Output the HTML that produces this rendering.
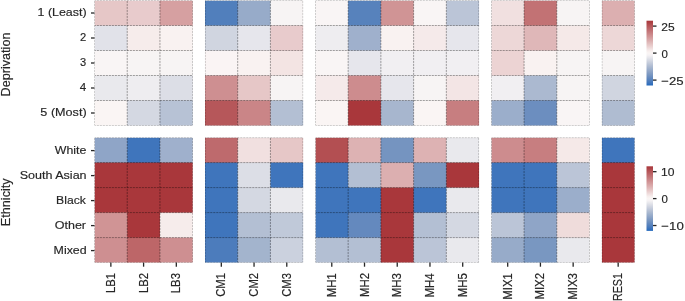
<!DOCTYPE html><html><head><meta charset="utf-8"><style>html,body{margin:0;padding:0;background:#fff;}svg{display:block;will-change:transform;}text{font-family:"Liberation Sans",sans-serif;fill:#262626;stroke:#262626;stroke-width:0.16px;}</style></head><body>
<svg width="685" height="301" viewBox="0 0 685 301">
<defs><linearGradient id="cb" x1="0" y1="0" x2="0" y2="1"><stop offset="0.0000" stop-color="#a9373b"/><stop offset="0.0312" stop-color="#ad4246"/><stop offset="0.0625" stop-color="#b34f52"/><stop offset="0.0938" stop-color="#b85b5e"/><stop offset="0.1250" stop-color="#bd676a"/><stop offset="0.1562" stop-color="#c27376"/><stop offset="0.1875" stop-color="#c77f81"/><stop offset="0.2188" stop-color="#cd8b8d"/><stop offset="0.2500" stop-color="#d29798"/><stop offset="0.2812" stop-color="#d7a3a4"/><stop offset="0.3125" stop-color="#dcafb0"/><stop offset="0.3438" stop-color="#e1bcbc"/><stop offset="0.3750" stop-color="#e7c8c8"/><stop offset="0.4062" stop-color="#ecd5d5"/><stop offset="0.4375" stop-color="#f2e2e2"/><stop offset="0.4688" stop-color="#f7efee"/><stop offset="0.5000" stop-color="#faf5f4"/><stop offset="0.5312" stop-color="#f5f2f4"/><stop offset="0.5625" stop-color="#e9e9ed"/><stop offset="0.5938" stop-color="#dcdee6"/><stop offset="0.6250" stop-color="#cfd4e0"/><stop offset="0.6562" stop-color="#c2cada"/><stop offset="0.6875" stop-color="#b5c0d4"/><stop offset="0.7188" stop-color="#a8b7cf"/><stop offset="0.7500" stop-color="#9baecb"/><stop offset="0.7812" stop-color="#8fa5c7"/><stop offset="0.8125" stop-color="#829cc3"/><stop offset="0.8438" stop-color="#7594c0"/><stop offset="0.8750" stop-color="#678bbe"/><stop offset="0.9062" stop-color="#5983bd"/><stop offset="0.9375" stop-color="#4a7bbc"/><stop offset="0.9688" stop-color="#3972bc"/><stop offset="1.0000" stop-color="#2369bd"/></linearGradient></defs>
<clipPath id="c0_0"><rect x="94.50" y="0.50" width="98.19" height="125.00"/></clipPath><g clip-path="url(#c0_0)">
<rect x="94.50" y="0.50" width="33.73" height="26.00" fill="#e6c7c7"/>
<rect x="127.23" y="0.50" width="33.73" height="26.00" fill="#e8cbcc"/>
<rect x="159.96" y="0.50" width="33.73" height="26.00" fill="#d6a0a1"/>
<rect x="94.50" y="25.50" width="33.73" height="26.00" fill="#e1e2e9"/>
<rect x="127.23" y="25.50" width="33.73" height="26.00" fill="#f6eceb"/>
<rect x="159.96" y="25.50" width="33.73" height="26.00" fill="#f9f2f1"/>
<rect x="94.50" y="50.50" width="33.73" height="26.00" fill="#f9f5f5"/>
<rect x="127.23" y="50.50" width="33.73" height="26.00" fill="#f7f4f4"/>
<rect x="159.96" y="50.50" width="33.73" height="26.00" fill="#f7f4f4"/>
<rect x="94.50" y="75.50" width="33.73" height="26.00" fill="#e9e9ed"/>
<rect x="127.23" y="75.50" width="33.73" height="26.00" fill="#eeedf0"/>
<rect x="159.96" y="75.50" width="33.73" height="26.00" fill="#dcdee6"/>
<rect x="94.50" y="100.50" width="33.73" height="26.00" fill="#faf5f4"/>
<rect x="127.23" y="100.50" width="33.73" height="26.00" fill="#d4d8e2"/>
<rect x="159.96" y="100.50" width="33.73" height="26.00" fill="#b7c2d5"/>
<line x1="94.50" y1="0.50" x2="192.69" y2="0.50" stroke="rgba(0,0,0,0.35)" stroke-width="1.0" stroke-dasharray="2.1,0.9" stroke-dashoffset="0.7"/>
<line x1="94.50" y1="25.50" x2="192.69" y2="25.50" stroke="rgba(0,0,0,0.35)" stroke-width="1.0" stroke-dasharray="2.1,0.9" stroke-dashoffset="0.7"/>
<line x1="94.50" y1="50.50" x2="192.69" y2="50.50" stroke="rgba(0,0,0,0.35)" stroke-width="1.0" stroke-dasharray="2.1,0.9" stroke-dashoffset="0.7"/>
<line x1="94.50" y1="75.50" x2="192.69" y2="75.50" stroke="rgba(0,0,0,0.35)" stroke-width="1.0" stroke-dasharray="2.1,0.9" stroke-dashoffset="0.7"/>
<line x1="94.50" y1="100.50" x2="192.69" y2="100.50" stroke="rgba(0,0,0,0.35)" stroke-width="1.0" stroke-dasharray="2.1,0.9" stroke-dashoffset="0.7"/>
<line x1="94.50" y1="125.50" x2="192.69" y2="125.50" stroke="rgba(0,0,0,0.35)" stroke-width="1.0" stroke-dasharray="2.1,0.9" stroke-dashoffset="0.7"/>
<line x1="94.50" y1="0.50" x2="94.50" y2="125.50" stroke="rgba(0,0,0,0.35)" stroke-width="1.0" stroke-dasharray="2.1,0.9" stroke-dashoffset="-0.35"/>
<line x1="127.23" y1="0.50" x2="127.23" y2="125.50" stroke="rgba(0,0,0,0.35)" stroke-width="1.0" stroke-dasharray="2.1,0.9" stroke-dashoffset="-0.35"/>
<line x1="159.96" y1="0.50" x2="159.96" y2="125.50" stroke="rgba(0,0,0,0.35)" stroke-width="1.0" stroke-dasharray="2.1,0.9" stroke-dashoffset="-0.35"/>
<line x1="192.69" y1="0.50" x2="192.69" y2="125.50" stroke="rgba(0,0,0,0.35)" stroke-width="1.0" stroke-dasharray="2.1,0.9" stroke-dashoffset="-0.35"/>
</g>
<clipPath id="c0_1"><rect x="204.96" y="0.50" width="98.19" height="125.00"/></clipPath><g clip-path="url(#c0_1)">
<rect x="204.96" y="0.50" width="33.73" height="26.00" fill="#517fbc"/>
<rect x="237.69" y="0.50" width="33.73" height="26.00" fill="#97abc9"/>
<rect x="270.42" y="0.50" width="33.73" height="26.00" fill="#f7f4f4"/>
<rect x="204.96" y="25.50" width="33.73" height="26.00" fill="#d0d5e0"/>
<rect x="237.69" y="25.50" width="33.73" height="26.00" fill="#e6e6ec"/>
<rect x="270.42" y="25.50" width="33.73" height="26.00" fill="#e8cbcc"/>
<rect x="204.96" y="50.50" width="33.73" height="26.00" fill="#faf4f4"/>
<rect x="237.69" y="50.50" width="33.73" height="26.00" fill="#f9f2f1"/>
<rect x="270.42" y="50.50" width="33.73" height="26.00" fill="#f3e4e3"/>
<rect x="204.96" y="75.50" width="33.73" height="26.00" fill="#ce8f91"/>
<rect x="237.69" y="75.50" width="33.73" height="26.00" fill="#e6c7c7"/>
<rect x="270.42" y="75.50" width="33.73" height="26.00" fill="#f7f4f4"/>
<rect x="204.96" y="100.50" width="33.73" height="26.00" fill="#b6575a"/>
<rect x="237.69" y="100.50" width="33.73" height="26.00" fill="#ca8587"/>
<rect x="270.42" y="100.50" width="33.73" height="26.00" fill="#b3bfd3"/>
<line x1="204.96" y1="0.50" x2="303.15" y2="0.50" stroke="rgba(0,0,0,0.35)" stroke-width="1.0" stroke-dasharray="2.1,0.9" stroke-dashoffset="0.7"/>
<line x1="204.96" y1="25.50" x2="303.15" y2="25.50" stroke="rgba(0,0,0,0.35)" stroke-width="1.0" stroke-dasharray="2.1,0.9" stroke-dashoffset="0.7"/>
<line x1="204.96" y1="50.50" x2="303.15" y2="50.50" stroke="rgba(0,0,0,0.35)" stroke-width="1.0" stroke-dasharray="2.1,0.9" stroke-dashoffset="0.7"/>
<line x1="204.96" y1="75.50" x2="303.15" y2="75.50" stroke="rgba(0,0,0,0.35)" stroke-width="1.0" stroke-dasharray="2.1,0.9" stroke-dashoffset="0.7"/>
<line x1="204.96" y1="100.50" x2="303.15" y2="100.50" stroke="rgba(0,0,0,0.35)" stroke-width="1.0" stroke-dasharray="2.1,0.9" stroke-dashoffset="0.7"/>
<line x1="204.96" y1="125.50" x2="303.15" y2="125.50" stroke="rgba(0,0,0,0.35)" stroke-width="1.0" stroke-dasharray="2.1,0.9" stroke-dashoffset="0.7"/>
<line x1="204.96" y1="0.50" x2="204.96" y2="125.50" stroke="rgba(0,0,0,0.35)" stroke-width="1.0" stroke-dasharray="2.1,0.9" stroke-dashoffset="-0.35"/>
<line x1="237.69" y1="0.50" x2="237.69" y2="125.50" stroke="rgba(0,0,0,0.35)" stroke-width="1.0" stroke-dasharray="2.1,0.9" stroke-dashoffset="-0.35"/>
<line x1="270.42" y1="0.50" x2="270.42" y2="125.50" stroke="rgba(0,0,0,0.35)" stroke-width="1.0" stroke-dasharray="2.1,0.9" stroke-dashoffset="-0.35"/>
<line x1="303.15" y1="0.50" x2="303.15" y2="125.50" stroke="rgba(0,0,0,0.35)" stroke-width="1.0" stroke-dasharray="2.1,0.9" stroke-dashoffset="-0.35"/>
</g>
<clipPath id="c0_2"><rect x="315.42" y="0.50" width="163.65" height="125.00"/></clipPath><g clip-path="url(#c0_2)">
<rect x="315.42" y="0.50" width="33.73" height="26.00" fill="#f9f5f5"/>
<rect x="348.15" y="0.50" width="33.73" height="26.00" fill="#5782bc"/>
<rect x="380.88" y="0.50" width="33.73" height="26.00" fill="#d09495"/>
<rect x="413.61" y="0.50" width="33.73" height="26.00" fill="#f9f5f5"/>
<rect x="446.34" y="0.50" width="33.73" height="26.00" fill="#bbc5d7"/>
<rect x="315.42" y="25.50" width="33.73" height="26.00" fill="#eeedf0"/>
<rect x="348.15" y="25.50" width="33.73" height="26.00" fill="#9fb0cc"/>
<rect x="380.88" y="25.50" width="33.73" height="26.00" fill="#f9f2f1"/>
<rect x="413.61" y="25.50" width="33.73" height="26.00" fill="#f5eaea"/>
<rect x="446.34" y="25.50" width="33.73" height="26.00" fill="#e6e6ec"/>
<rect x="315.42" y="50.50" width="33.73" height="26.00" fill="#f9f5f5"/>
<rect x="348.15" y="50.50" width="33.73" height="26.00" fill="#e6e6ec"/>
<rect x="380.88" y="50.50" width="33.73" height="26.00" fill="#f1eff2"/>
<rect x="413.61" y="50.50" width="33.73" height="26.00" fill="#f1eff2"/>
<rect x="446.34" y="50.50" width="33.73" height="26.00" fill="#f1eff2"/>
<rect x="315.42" y="75.50" width="33.73" height="26.00" fill="#f5eaea"/>
<rect x="348.15" y="75.50" width="33.73" height="26.00" fill="#cd8c8e"/>
<rect x="380.88" y="75.50" width="33.73" height="26.00" fill="#e6e6ec"/>
<rect x="413.61" y="75.50" width="33.73" height="26.00" fill="#f7f4f4"/>
<rect x="446.34" y="75.50" width="33.73" height="26.00" fill="#f3e5e5"/>
<rect x="315.42" y="100.50" width="33.73" height="26.00" fill="#faf5f4"/>
<rect x="348.15" y="100.50" width="33.73" height="26.00" fill="#a9373b"/>
<rect x="380.88" y="100.50" width="33.73" height="26.00" fill="#a7b6ce"/>
<rect x="413.61" y="100.50" width="33.73" height="26.00" fill="#faf5f4"/>
<rect x="446.34" y="100.50" width="33.73" height="26.00" fill="#c77e80"/>
<line x1="315.42" y1="0.50" x2="479.07" y2="0.50" stroke="rgba(0,0,0,0.35)" stroke-width="1.0" stroke-dasharray="2.1,0.9" stroke-dashoffset="0.7"/>
<line x1="315.42" y1="25.50" x2="479.07" y2="25.50" stroke="rgba(0,0,0,0.35)" stroke-width="1.0" stroke-dasharray="2.1,0.9" stroke-dashoffset="0.7"/>
<line x1="315.42" y1="50.50" x2="479.07" y2="50.50" stroke="rgba(0,0,0,0.35)" stroke-width="1.0" stroke-dasharray="2.1,0.9" stroke-dashoffset="0.7"/>
<line x1="315.42" y1="75.50" x2="479.07" y2="75.50" stroke="rgba(0,0,0,0.35)" stroke-width="1.0" stroke-dasharray="2.1,0.9" stroke-dashoffset="0.7"/>
<line x1="315.42" y1="100.50" x2="479.07" y2="100.50" stroke="rgba(0,0,0,0.35)" stroke-width="1.0" stroke-dasharray="2.1,0.9" stroke-dashoffset="0.7"/>
<line x1="315.42" y1="125.50" x2="479.07" y2="125.50" stroke="rgba(0,0,0,0.35)" stroke-width="1.0" stroke-dasharray="2.1,0.9" stroke-dashoffset="0.7"/>
<line x1="315.42" y1="0.50" x2="315.42" y2="125.50" stroke="rgba(0,0,0,0.35)" stroke-width="1.0" stroke-dasharray="2.1,0.9" stroke-dashoffset="-0.35"/>
<line x1="348.15" y1="0.50" x2="348.15" y2="125.50" stroke="rgba(0,0,0,0.35)" stroke-width="1.0" stroke-dasharray="2.1,0.9" stroke-dashoffset="-0.35"/>
<line x1="380.88" y1="0.50" x2="380.88" y2="125.50" stroke="rgba(0,0,0,0.35)" stroke-width="1.0" stroke-dasharray="2.1,0.9" stroke-dashoffset="-0.35"/>
<line x1="413.61" y1="0.50" x2="413.61" y2="125.50" stroke="rgba(0,0,0,0.35)" stroke-width="1.0" stroke-dasharray="2.1,0.9" stroke-dashoffset="-0.35"/>
<line x1="446.34" y1="0.50" x2="446.34" y2="125.50" stroke="rgba(0,0,0,0.35)" stroke-width="1.0" stroke-dasharray="2.1,0.9" stroke-dashoffset="-0.35"/>
<line x1="479.07" y1="0.50" x2="479.07" y2="125.50" stroke="rgba(0,0,0,0.35)" stroke-width="1.0" stroke-dasharray="2.1,0.9" stroke-dashoffset="-0.35"/>
</g>
<clipPath id="c0_3"><rect x="491.34" y="0.50" width="98.19" height="125.00"/></clipPath><g clip-path="url(#c0_3)">
<rect x="491.34" y="0.50" width="33.73" height="26.00" fill="#f1e0e0"/>
<rect x="524.07" y="0.50" width="33.73" height="26.00" fill="#c27274"/>
<rect x="556.80" y="0.50" width="33.73" height="26.00" fill="#f7f4f4"/>
<rect x="491.34" y="25.50" width="33.73" height="26.00" fill="#edd7d7"/>
<rect x="524.07" y="25.50" width="33.73" height="26.00" fill="#dfb7b8"/>
<rect x="556.80" y="25.50" width="33.73" height="26.00" fill="#f5e9e8"/>
<rect x="491.34" y="50.50" width="33.73" height="26.00" fill="#ecd3d3"/>
<rect x="524.07" y="50.50" width="33.73" height="26.00" fill="#f9f2f1"/>
<rect x="556.80" y="50.50" width="33.73" height="26.00" fill="#f7f4f4"/>
<rect x="491.34" y="75.50" width="33.73" height="26.00" fill="#f1eff2"/>
<rect x="524.07" y="75.50" width="33.73" height="26.00" fill="#abb9d0"/>
<rect x="556.80" y="75.50" width="33.73" height="26.00" fill="#f7f4f4"/>
<rect x="491.34" y="100.50" width="33.73" height="26.00" fill="#9baecb"/>
<rect x="524.07" y="100.50" width="33.73" height="26.00" fill="#6c8ebf"/>
<rect x="556.80" y="100.50" width="33.73" height="26.00" fill="#f9f5f5"/>
<line x1="491.34" y1="0.50" x2="589.53" y2="0.50" stroke="rgba(0,0,0,0.35)" stroke-width="1.0" stroke-dasharray="2.1,0.9" stroke-dashoffset="0.7"/>
<line x1="491.34" y1="25.50" x2="589.53" y2="25.50" stroke="rgba(0,0,0,0.35)" stroke-width="1.0" stroke-dasharray="2.1,0.9" stroke-dashoffset="0.7"/>
<line x1="491.34" y1="50.50" x2="589.53" y2="50.50" stroke="rgba(0,0,0,0.35)" stroke-width="1.0" stroke-dasharray="2.1,0.9" stroke-dashoffset="0.7"/>
<line x1="491.34" y1="75.50" x2="589.53" y2="75.50" stroke="rgba(0,0,0,0.35)" stroke-width="1.0" stroke-dasharray="2.1,0.9" stroke-dashoffset="0.7"/>
<line x1="491.34" y1="100.50" x2="589.53" y2="100.50" stroke="rgba(0,0,0,0.35)" stroke-width="1.0" stroke-dasharray="2.1,0.9" stroke-dashoffset="0.7"/>
<line x1="491.34" y1="125.50" x2="589.53" y2="125.50" stroke="rgba(0,0,0,0.35)" stroke-width="1.0" stroke-dasharray="2.1,0.9" stroke-dashoffset="0.7"/>
<line x1="491.34" y1="0.50" x2="491.34" y2="125.50" stroke="rgba(0,0,0,0.35)" stroke-width="1.0" stroke-dasharray="2.1,0.9" stroke-dashoffset="-0.35"/>
<line x1="524.07" y1="0.50" x2="524.07" y2="125.50" stroke="rgba(0,0,0,0.35)" stroke-width="1.0" stroke-dasharray="2.1,0.9" stroke-dashoffset="-0.35"/>
<line x1="556.80" y1="0.50" x2="556.80" y2="125.50" stroke="rgba(0,0,0,0.35)" stroke-width="1.0" stroke-dasharray="2.1,0.9" stroke-dashoffset="-0.35"/>
<line x1="589.53" y1="0.50" x2="589.53" y2="125.50" stroke="rgba(0,0,0,0.35)" stroke-width="1.0" stroke-dasharray="2.1,0.9" stroke-dashoffset="-0.35"/>
</g>
<clipPath id="c0_4"><rect x="601.80" y="0.50" width="32.73" height="125.00"/></clipPath><g clip-path="url(#c0_4)">
<rect x="601.80" y="0.50" width="33.73" height="26.00" fill="#dcafb0"/>
<rect x="601.80" y="25.50" width="33.73" height="26.00" fill="#edd7d7"/>
<rect x="601.80" y="50.50" width="33.73" height="26.00" fill="#f7f4f4"/>
<rect x="601.80" y="75.50" width="33.73" height="26.00" fill="#d0d5e0"/>
<rect x="601.80" y="100.50" width="33.73" height="26.00" fill="#afbcd1"/>
<line x1="601.80" y1="0.50" x2="634.53" y2="0.50" stroke="rgba(0,0,0,0.35)" stroke-width="1.0" stroke-dasharray="2.1,0.9" stroke-dashoffset="0.7"/>
<line x1="601.80" y1="25.50" x2="634.53" y2="25.50" stroke="rgba(0,0,0,0.35)" stroke-width="1.0" stroke-dasharray="2.1,0.9" stroke-dashoffset="0.7"/>
<line x1="601.80" y1="50.50" x2="634.53" y2="50.50" stroke="rgba(0,0,0,0.35)" stroke-width="1.0" stroke-dasharray="2.1,0.9" stroke-dashoffset="0.7"/>
<line x1="601.80" y1="75.50" x2="634.53" y2="75.50" stroke="rgba(0,0,0,0.35)" stroke-width="1.0" stroke-dasharray="2.1,0.9" stroke-dashoffset="0.7"/>
<line x1="601.80" y1="100.50" x2="634.53" y2="100.50" stroke="rgba(0,0,0,0.35)" stroke-width="1.0" stroke-dasharray="2.1,0.9" stroke-dashoffset="0.7"/>
<line x1="601.80" y1="125.50" x2="634.53" y2="125.50" stroke="rgba(0,0,0,0.35)" stroke-width="1.0" stroke-dasharray="2.1,0.9" stroke-dashoffset="0.7"/>
<line x1="601.80" y1="0.50" x2="601.80" y2="125.50" stroke="rgba(0,0,0,0.35)" stroke-width="1.0" stroke-dasharray="2.1,0.9" stroke-dashoffset="-0.35"/>
<line x1="634.53" y1="0.50" x2="634.53" y2="125.50" stroke="rgba(0,0,0,0.35)" stroke-width="1.0" stroke-dasharray="2.1,0.9" stroke-dashoffset="-0.35"/>
</g>
<line x1="91.00" y1="13.00" x2="94.50" y2="13.00" stroke="#262626" stroke-width="1.3"/>
<text x="37.54" y="16.20" font-size="11.7" textLength="49.02" lengthAdjust="spacingAndGlyphs">1 (Least)</text>
<line x1="91.00" y1="38.00" x2="94.50" y2="38.00" stroke="#262626" stroke-width="1.3"/>
<text x="80.12" y="41.20" font-size="11.7" textLength="6.26" lengthAdjust="spacingAndGlyphs">2</text>
<line x1="91.00" y1="63.00" x2="94.50" y2="63.00" stroke="#262626" stroke-width="1.3"/>
<text x="80.12" y="66.20" font-size="11.7" textLength="6.16" lengthAdjust="spacingAndGlyphs">3</text>
<line x1="91.00" y1="88.00" x2="94.50" y2="88.00" stroke="#262626" stroke-width="1.3"/>
<text x="79.70" y="91.20" font-size="11.7" textLength="6.45" lengthAdjust="spacingAndGlyphs">4</text>
<line x1="91.00" y1="113.00" x2="94.50" y2="113.00" stroke="#262626" stroke-width="1.3"/>
<text x="40.36" y="116.20" font-size="11.7" textLength="46.25" lengthAdjust="spacingAndGlyphs">5 (Most)</text>
<clipPath id="c1_0"><rect x="94.50" y="137.60" width="98.19" height="125.00"/></clipPath><g clip-path="url(#c1_0)">
<rect x="94.50" y="137.60" width="33.73" height="26.00" fill="#8fa5c7"/>
<rect x="127.23" y="137.60" width="33.73" height="26.00" fill="#3f75bc"/>
<rect x="159.96" y="137.60" width="33.73" height="26.00" fill="#9fb0cc"/>
<rect x="94.50" y="162.60" width="33.73" height="26.00" fill="#a9373b"/>
<rect x="127.23" y="162.60" width="33.73" height="26.00" fill="#a9373b"/>
<rect x="159.96" y="162.60" width="33.73" height="26.00" fill="#a9373b"/>
<rect x="94.50" y="187.60" width="33.73" height="26.00" fill="#a9373b"/>
<rect x="127.23" y="187.60" width="33.73" height="26.00" fill="#a9373b"/>
<rect x="159.96" y="187.60" width="33.73" height="26.00" fill="#a9373b"/>
<rect x="94.50" y="212.60" width="33.73" height="26.00" fill="#d09495"/>
<rect x="127.23" y="212.60" width="33.73" height="26.00" fill="#a9373b"/>
<rect x="159.96" y="212.60" width="33.73" height="26.00" fill="#f6eceb"/>
<rect x="94.50" y="237.60" width="33.73" height="26.00" fill="#ce8f91"/>
<rect x="127.23" y="237.60" width="33.73" height="26.00" fill="#bd6668"/>
<rect x="159.96" y="237.60" width="33.73" height="26.00" fill="#ce8f91"/>
<line x1="94.50" y1="137.60" x2="192.69" y2="137.60" stroke="rgba(0,0,0,0.35)" stroke-width="1.0" stroke-dasharray="2.1,0.9" stroke-dashoffset="0.7"/>
<line x1="94.50" y1="162.60" x2="192.69" y2="162.60" stroke="rgba(0,0,0,0.35)" stroke-width="1.0" stroke-dasharray="2.1,0.9" stroke-dashoffset="0.7"/>
<line x1="94.50" y1="187.60" x2="192.69" y2="187.60" stroke="rgba(0,0,0,0.35)" stroke-width="1.0" stroke-dasharray="2.1,0.9" stroke-dashoffset="0.7"/>
<line x1="94.50" y1="212.60" x2="192.69" y2="212.60" stroke="rgba(0,0,0,0.35)" stroke-width="1.0" stroke-dasharray="2.1,0.9" stroke-dashoffset="0.7"/>
<line x1="94.50" y1="237.60" x2="192.69" y2="237.60" stroke="rgba(0,0,0,0.35)" stroke-width="1.0" stroke-dasharray="2.1,0.9" stroke-dashoffset="0.7"/>
<line x1="94.50" y1="262.60" x2="192.69" y2="262.60" stroke="rgba(0,0,0,0.35)" stroke-width="1.0" stroke-dasharray="2.1,0.9" stroke-dashoffset="0.7"/>
<line x1="94.50" y1="137.60" x2="94.50" y2="262.60" stroke="rgba(0,0,0,0.35)" stroke-width="1.0" stroke-dasharray="2.1,0.9" stroke-dashoffset="-0.35"/>
<line x1="127.23" y1="137.60" x2="127.23" y2="262.60" stroke="rgba(0,0,0,0.35)" stroke-width="1.0" stroke-dasharray="2.1,0.9" stroke-dashoffset="-0.35"/>
<line x1="159.96" y1="137.60" x2="159.96" y2="262.60" stroke="rgba(0,0,0,0.35)" stroke-width="1.0" stroke-dasharray="2.1,0.9" stroke-dashoffset="-0.35"/>
<line x1="192.69" y1="137.60" x2="192.69" y2="262.60" stroke="rgba(0,0,0,0.35)" stroke-width="1.0" stroke-dasharray="2.1,0.9" stroke-dashoffset="-0.35"/>
</g>
<clipPath id="c1_1"><rect x="204.96" y="137.60" width="98.19" height="125.00"/></clipPath><g clip-path="url(#c1_1)">
<rect x="204.96" y="137.60" width="33.73" height="26.00" fill="#be6a6d"/>
<rect x="237.69" y="137.60" width="33.73" height="26.00" fill="#f1e0e0"/>
<rect x="270.42" y="137.60" width="33.73" height="26.00" fill="#e6c7c7"/>
<rect x="204.96" y="162.60" width="33.73" height="26.00" fill="#3f75bc"/>
<rect x="237.69" y="162.60" width="33.73" height="26.00" fill="#dcdee6"/>
<rect x="270.42" y="162.60" width="33.73" height="26.00" fill="#3f75bc"/>
<rect x="204.96" y="187.60" width="33.73" height="26.00" fill="#3f75bc"/>
<rect x="237.69" y="187.60" width="33.73" height="26.00" fill="#d4d8e2"/>
<rect x="270.42" y="187.60" width="33.73" height="26.00" fill="#e9e9ed"/>
<rect x="204.96" y="212.60" width="33.73" height="26.00" fill="#3f75bc"/>
<rect x="237.69" y="212.60" width="33.73" height="26.00" fill="#b3bfd3"/>
<rect x="270.42" y="212.60" width="33.73" height="26.00" fill="#c0c9d9"/>
<rect x="204.96" y="237.60" width="33.73" height="26.00" fill="#4c7cbc"/>
<rect x="237.69" y="237.60" width="33.73" height="26.00" fill="#a3b4cd"/>
<rect x="270.42" y="237.60" width="33.73" height="26.00" fill="#cbd1de"/>
<line x1="204.96" y1="137.60" x2="303.15" y2="137.60" stroke="rgba(0,0,0,0.35)" stroke-width="1.0" stroke-dasharray="2.1,0.9" stroke-dashoffset="0.7"/>
<line x1="204.96" y1="162.60" x2="303.15" y2="162.60" stroke="rgba(0,0,0,0.35)" stroke-width="1.0" stroke-dasharray="2.1,0.9" stroke-dashoffset="0.7"/>
<line x1="204.96" y1="187.60" x2="303.15" y2="187.60" stroke="rgba(0,0,0,0.35)" stroke-width="1.0" stroke-dasharray="2.1,0.9" stroke-dashoffset="0.7"/>
<line x1="204.96" y1="212.60" x2="303.15" y2="212.60" stroke="rgba(0,0,0,0.35)" stroke-width="1.0" stroke-dasharray="2.1,0.9" stroke-dashoffset="0.7"/>
<line x1="204.96" y1="237.60" x2="303.15" y2="237.60" stroke="rgba(0,0,0,0.35)" stroke-width="1.0" stroke-dasharray="2.1,0.9" stroke-dashoffset="0.7"/>
<line x1="204.96" y1="262.60" x2="303.15" y2="262.60" stroke="rgba(0,0,0,0.35)" stroke-width="1.0" stroke-dasharray="2.1,0.9" stroke-dashoffset="0.7"/>
<line x1="204.96" y1="137.60" x2="204.96" y2="262.60" stroke="rgba(0,0,0,0.35)" stroke-width="1.0" stroke-dasharray="2.1,0.9" stroke-dashoffset="-0.35"/>
<line x1="237.69" y1="137.60" x2="237.69" y2="262.60" stroke="rgba(0,0,0,0.35)" stroke-width="1.0" stroke-dasharray="2.1,0.9" stroke-dashoffset="-0.35"/>
<line x1="270.42" y1="137.60" x2="270.42" y2="262.60" stroke="rgba(0,0,0,0.35)" stroke-width="1.0" stroke-dasharray="2.1,0.9" stroke-dashoffset="-0.35"/>
<line x1="303.15" y1="137.60" x2="303.15" y2="262.60" stroke="rgba(0,0,0,0.35)" stroke-width="1.0" stroke-dasharray="2.1,0.9" stroke-dashoffset="-0.35"/>
</g>
<clipPath id="c1_2"><rect x="315.42" y="137.60" width="163.65" height="125.00"/></clipPath><g clip-path="url(#c1_2)">
<rect x="315.42" y="137.60" width="33.73" height="26.00" fill="#b34f52"/>
<rect x="348.15" y="137.60" width="33.73" height="26.00" fill="#ddb2b3"/>
<rect x="380.88" y="137.60" width="33.73" height="26.00" fill="#7594c0"/>
<rect x="413.61" y="137.60" width="33.73" height="26.00" fill="#ddb2b3"/>
<rect x="446.34" y="137.60" width="33.73" height="26.00" fill="#e9e9ed"/>
<rect x="315.42" y="162.60" width="33.73" height="26.00" fill="#3f75bc"/>
<rect x="348.15" y="162.60" width="33.73" height="26.00" fill="#b3bfd3"/>
<rect x="380.88" y="162.60" width="33.73" height="26.00" fill="#dcafb0"/>
<rect x="413.61" y="162.60" width="33.73" height="26.00" fill="#7997c1"/>
<rect x="446.34" y="162.60" width="33.73" height="26.00" fill="#a9373b"/>
<rect x="315.42" y="187.60" width="33.73" height="26.00" fill="#3f75bc"/>
<rect x="348.15" y="187.60" width="33.73" height="26.00" fill="#3f75bc"/>
<rect x="380.88" y="187.60" width="33.73" height="26.00" fill="#a9373b"/>
<rect x="413.61" y="187.60" width="33.73" height="26.00" fill="#3f75bc"/>
<rect x="446.34" y="187.60" width="33.73" height="26.00" fill="#e9e9ed"/>
<rect x="315.42" y="212.60" width="33.73" height="26.00" fill="#3f75bc"/>
<rect x="348.15" y="212.60" width="33.73" height="26.00" fill="#6489be"/>
<rect x="380.88" y="212.60" width="33.73" height="26.00" fill="#a9373b"/>
<rect x="413.61" y="212.60" width="33.73" height="26.00" fill="#b3bfd3"/>
<rect x="446.34" y="212.60" width="33.73" height="26.00" fill="#d4d8e2"/>
<rect x="315.42" y="237.60" width="33.73" height="26.00" fill="#b3bfd3"/>
<rect x="348.15" y="237.60" width="33.73" height="26.00" fill="#b3bfd3"/>
<rect x="380.88" y="237.60" width="33.73" height="26.00" fill="#a9373b"/>
<rect x="413.61" y="237.60" width="33.73" height="26.00" fill="#bbc5d7"/>
<rect x="446.34" y="237.60" width="33.73" height="26.00" fill="#e9e9ed"/>
<line x1="315.42" y1="137.60" x2="479.07" y2="137.60" stroke="rgba(0,0,0,0.35)" stroke-width="1.0" stroke-dasharray="2.1,0.9" stroke-dashoffset="0.7"/>
<line x1="315.42" y1="162.60" x2="479.07" y2="162.60" stroke="rgba(0,0,0,0.35)" stroke-width="1.0" stroke-dasharray="2.1,0.9" stroke-dashoffset="0.7"/>
<line x1="315.42" y1="187.60" x2="479.07" y2="187.60" stroke="rgba(0,0,0,0.35)" stroke-width="1.0" stroke-dasharray="2.1,0.9" stroke-dashoffset="0.7"/>
<line x1="315.42" y1="212.60" x2="479.07" y2="212.60" stroke="rgba(0,0,0,0.35)" stroke-width="1.0" stroke-dasharray="2.1,0.9" stroke-dashoffset="0.7"/>
<line x1="315.42" y1="237.60" x2="479.07" y2="237.60" stroke="rgba(0,0,0,0.35)" stroke-width="1.0" stroke-dasharray="2.1,0.9" stroke-dashoffset="0.7"/>
<line x1="315.42" y1="262.60" x2="479.07" y2="262.60" stroke="rgba(0,0,0,0.35)" stroke-width="1.0" stroke-dasharray="2.1,0.9" stroke-dashoffset="0.7"/>
<line x1="315.42" y1="137.60" x2="315.42" y2="262.60" stroke="rgba(0,0,0,0.35)" stroke-width="1.0" stroke-dasharray="2.1,0.9" stroke-dashoffset="-0.35"/>
<line x1="348.15" y1="137.60" x2="348.15" y2="262.60" stroke="rgba(0,0,0,0.35)" stroke-width="1.0" stroke-dasharray="2.1,0.9" stroke-dashoffset="-0.35"/>
<line x1="380.88" y1="137.60" x2="380.88" y2="262.60" stroke="rgba(0,0,0,0.35)" stroke-width="1.0" stroke-dasharray="2.1,0.9" stroke-dashoffset="-0.35"/>
<line x1="413.61" y1="137.60" x2="413.61" y2="262.60" stroke="rgba(0,0,0,0.35)" stroke-width="1.0" stroke-dasharray="2.1,0.9" stroke-dashoffset="-0.35"/>
<line x1="446.34" y1="137.60" x2="446.34" y2="262.60" stroke="rgba(0,0,0,0.35)" stroke-width="1.0" stroke-dasharray="2.1,0.9" stroke-dashoffset="-0.35"/>
<line x1="479.07" y1="137.60" x2="479.07" y2="262.60" stroke="rgba(0,0,0,0.35)" stroke-width="1.0" stroke-dasharray="2.1,0.9" stroke-dashoffset="-0.35"/>
</g>
<clipPath id="c1_3"><rect x="491.34" y="137.60" width="98.19" height="125.00"/></clipPath><g clip-path="url(#c1_3)">
<rect x="491.34" y="137.60" width="33.73" height="26.00" fill="#cd8c8e"/>
<rect x="524.07" y="137.60" width="33.73" height="26.00" fill="#c77e80"/>
<rect x="556.80" y="137.60" width="33.73" height="26.00" fill="#f5e9e8"/>
<rect x="491.34" y="162.60" width="33.73" height="26.00" fill="#3f75bc"/>
<rect x="524.07" y="162.60" width="33.73" height="26.00" fill="#3f75bc"/>
<rect x="556.80" y="162.60" width="33.73" height="26.00" fill="#bbc5d7"/>
<rect x="491.34" y="187.60" width="33.73" height="26.00" fill="#3f75bc"/>
<rect x="524.07" y="187.60" width="33.73" height="26.00" fill="#3f75bc"/>
<rect x="556.80" y="187.60" width="33.73" height="26.00" fill="#9baecb"/>
<rect x="491.34" y="212.60" width="33.73" height="26.00" fill="#bbc5d7"/>
<rect x="524.07" y="212.60" width="33.73" height="26.00" fill="#8fa5c7"/>
<rect x="556.80" y="212.60" width="33.73" height="26.00" fill="#efdcdb"/>
<rect x="491.34" y="237.60" width="33.73" height="26.00" fill="#97abc9"/>
<rect x="524.07" y="237.60" width="33.73" height="26.00" fill="#7997c1"/>
<rect x="556.80" y="237.60" width="33.73" height="26.00" fill="#e9e9ed"/>
<line x1="491.34" y1="137.60" x2="589.53" y2="137.60" stroke="rgba(0,0,0,0.35)" stroke-width="1.0" stroke-dasharray="2.1,0.9" stroke-dashoffset="0.7"/>
<line x1="491.34" y1="162.60" x2="589.53" y2="162.60" stroke="rgba(0,0,0,0.35)" stroke-width="1.0" stroke-dasharray="2.1,0.9" stroke-dashoffset="0.7"/>
<line x1="491.34" y1="187.60" x2="589.53" y2="187.60" stroke="rgba(0,0,0,0.35)" stroke-width="1.0" stroke-dasharray="2.1,0.9" stroke-dashoffset="0.7"/>
<line x1="491.34" y1="212.60" x2="589.53" y2="212.60" stroke="rgba(0,0,0,0.35)" stroke-width="1.0" stroke-dasharray="2.1,0.9" stroke-dashoffset="0.7"/>
<line x1="491.34" y1="237.60" x2="589.53" y2="237.60" stroke="rgba(0,0,0,0.35)" stroke-width="1.0" stroke-dasharray="2.1,0.9" stroke-dashoffset="0.7"/>
<line x1="491.34" y1="262.60" x2="589.53" y2="262.60" stroke="rgba(0,0,0,0.35)" stroke-width="1.0" stroke-dasharray="2.1,0.9" stroke-dashoffset="0.7"/>
<line x1="491.34" y1="137.60" x2="491.34" y2="262.60" stroke="rgba(0,0,0,0.35)" stroke-width="1.0" stroke-dasharray="2.1,0.9" stroke-dashoffset="-0.35"/>
<line x1="524.07" y1="137.60" x2="524.07" y2="262.60" stroke="rgba(0,0,0,0.35)" stroke-width="1.0" stroke-dasharray="2.1,0.9" stroke-dashoffset="-0.35"/>
<line x1="556.80" y1="137.60" x2="556.80" y2="262.60" stroke="rgba(0,0,0,0.35)" stroke-width="1.0" stroke-dasharray="2.1,0.9" stroke-dashoffset="-0.35"/>
<line x1="589.53" y1="137.60" x2="589.53" y2="262.60" stroke="rgba(0,0,0,0.35)" stroke-width="1.0" stroke-dasharray="2.1,0.9" stroke-dashoffset="-0.35"/>
</g>
<clipPath id="c1_4"><rect x="601.80" y="137.60" width="32.73" height="125.00"/></clipPath><g clip-path="url(#c1_4)">
<rect x="601.80" y="137.60" width="33.73" height="26.00" fill="#3f75bc"/>
<rect x="601.80" y="162.60" width="33.73" height="26.00" fill="#a9373b"/>
<rect x="601.80" y="187.60" width="33.73" height="26.00" fill="#a9373b"/>
<rect x="601.80" y="212.60" width="33.73" height="26.00" fill="#a9373b"/>
<rect x="601.80" y="237.60" width="33.73" height="26.00" fill="#a9373b"/>
<line x1="601.80" y1="137.60" x2="634.53" y2="137.60" stroke="rgba(0,0,0,0.35)" stroke-width="1.0" stroke-dasharray="2.1,0.9" stroke-dashoffset="0.7"/>
<line x1="601.80" y1="162.60" x2="634.53" y2="162.60" stroke="rgba(0,0,0,0.35)" stroke-width="1.0" stroke-dasharray="2.1,0.9" stroke-dashoffset="0.7"/>
<line x1="601.80" y1="187.60" x2="634.53" y2="187.60" stroke="rgba(0,0,0,0.35)" stroke-width="1.0" stroke-dasharray="2.1,0.9" stroke-dashoffset="0.7"/>
<line x1="601.80" y1="212.60" x2="634.53" y2="212.60" stroke="rgba(0,0,0,0.35)" stroke-width="1.0" stroke-dasharray="2.1,0.9" stroke-dashoffset="0.7"/>
<line x1="601.80" y1="237.60" x2="634.53" y2="237.60" stroke="rgba(0,0,0,0.35)" stroke-width="1.0" stroke-dasharray="2.1,0.9" stroke-dashoffset="0.7"/>
<line x1="601.80" y1="262.60" x2="634.53" y2="262.60" stroke="rgba(0,0,0,0.35)" stroke-width="1.0" stroke-dasharray="2.1,0.9" stroke-dashoffset="0.7"/>
<line x1="601.80" y1="137.60" x2="601.80" y2="262.60" stroke="rgba(0,0,0,0.35)" stroke-width="1.0" stroke-dasharray="2.1,0.9" stroke-dashoffset="-0.35"/>
<line x1="634.53" y1="137.60" x2="634.53" y2="262.60" stroke="rgba(0,0,0,0.35)" stroke-width="1.0" stroke-dasharray="2.1,0.9" stroke-dashoffset="-0.35"/>
</g>
<line x1="91.00" y1="150.60" x2="94.50" y2="150.60" stroke="#262626" stroke-width="1.3"/>
<text x="54.75" y="153.90" font-size="11.7" textLength="31.59" lengthAdjust="spacingAndGlyphs">White</text>
<line x1="91.00" y1="175.60" x2="94.50" y2="175.60" stroke="#262626" stroke-width="1.3"/>
<text x="19.71" y="178.90" font-size="11.7" textLength="66.89" lengthAdjust="spacingAndGlyphs">South Asian</text>
<line x1="91.00" y1="200.60" x2="94.50" y2="200.60" stroke="#262626" stroke-width="1.3"/>
<text x="56.11" y="203.90" font-size="11.7" textLength="29.70" lengthAdjust="spacingAndGlyphs">Black</text>
<line x1="91.00" y1="225.60" x2="94.50" y2="225.60" stroke="#262626" stroke-width="1.3"/>
<text x="54.71" y="228.90" font-size="11.7" textLength="31.32" lengthAdjust="spacingAndGlyphs">Other</text>
<line x1="91.00" y1="250.60" x2="94.50" y2="250.60" stroke="#262626" stroke-width="1.3"/>
<text x="53.60" y="253.90" font-size="11.7" textLength="33.01" lengthAdjust="spacingAndGlyphs">Mixed</text>
<line x1="110.86" y1="262.60" x2="110.86" y2="266.70" stroke="#262626" stroke-width="1.3"/>
<text transform="translate(114.86,292.15) rotate(-90)" x="-0.91" y="0" font-size="12.3" textLength="20.00" lengthAdjust="spacingAndGlyphs">LB1</text>
<line x1="143.59" y1="262.60" x2="143.59" y2="266.70" stroke="#262626" stroke-width="1.3"/>
<text transform="translate(147.59,292.05) rotate(-90)" x="-0.91" y="0" font-size="12.3" textLength="19.94" lengthAdjust="spacingAndGlyphs">LB2</text>
<line x1="176.32" y1="262.60" x2="176.32" y2="266.70" stroke="#262626" stroke-width="1.3"/>
<text transform="translate(180.32,292.25) rotate(-90)" x="-0.92" y="0" font-size="12.3" textLength="20.06" lengthAdjust="spacingAndGlyphs">LB3</text>
<line x1="221.32" y1="262.60" x2="221.32" y2="266.70" stroke="#262626" stroke-width="1.3"/>
<text transform="translate(225.32,296.15) rotate(-90)" x="-0.59" y="0" font-size="12.3" textLength="23.66" lengthAdjust="spacingAndGlyphs">CM1</text>
<line x1="254.05" y1="262.60" x2="254.05" y2="266.70" stroke="#262626" stroke-width="1.3"/>
<text transform="translate(258.05,296.05) rotate(-90)" x="-0.59" y="0" font-size="12.3" textLength="23.60" lengthAdjust="spacingAndGlyphs">CM2</text>
<line x1="286.78" y1="262.60" x2="286.78" y2="266.70" stroke="#262626" stroke-width="1.3"/>
<text transform="translate(290.78,296.25) rotate(-90)" x="-0.59" y="0" font-size="12.3" textLength="23.72" lengthAdjust="spacingAndGlyphs">CM3</text>
<line x1="331.78" y1="262.60" x2="331.78" y2="266.70" stroke="#262626" stroke-width="1.3"/>
<text transform="translate(335.78,296.25) rotate(-90)" x="-0.93" y="0" font-size="12.3" textLength="24.11" lengthAdjust="spacingAndGlyphs">MH1</text>
<line x1="364.51" y1="262.60" x2="364.51" y2="266.70" stroke="#262626" stroke-width="1.3"/>
<text transform="translate(368.51,296.15) rotate(-90)" x="-0.93" y="0" font-size="12.3" textLength="24.05" lengthAdjust="spacingAndGlyphs">MH2</text>
<line x1="397.24" y1="262.60" x2="397.24" y2="266.70" stroke="#262626" stroke-width="1.3"/>
<text transform="translate(401.24,296.35) rotate(-90)" x="-0.93" y="0" font-size="12.3" textLength="24.16" lengthAdjust="spacingAndGlyphs">MH3</text>
<line x1="429.97" y1="262.60" x2="429.97" y2="266.70" stroke="#262626" stroke-width="1.3"/>
<text transform="translate(433.97,296.65) rotate(-90)" x="-0.94" y="0" font-size="12.3" textLength="24.28" lengthAdjust="spacingAndGlyphs">MH4</text>
<line x1="462.70" y1="262.60" x2="462.70" y2="266.70" stroke="#262626" stroke-width="1.3"/>
<text transform="translate(466.70,296.30) rotate(-90)" x="-0.93" y="0" font-size="12.3" textLength="24.11" lengthAdjust="spacingAndGlyphs">MH5</text>
<line x1="507.70" y1="262.60" x2="507.70" y2="266.70" stroke="#262626" stroke-width="1.3"/>
<text transform="translate(511.70,298.75) rotate(-90)" x="-0.93" y="0" font-size="12.3" textLength="26.64" lengthAdjust="spacingAndGlyphs">MIX1</text>
<line x1="540.43" y1="262.60" x2="540.43" y2="266.70" stroke="#262626" stroke-width="1.3"/>
<text transform="translate(544.43,298.65) rotate(-90)" x="-0.93" y="0" font-size="12.3" textLength="26.59" lengthAdjust="spacingAndGlyphs">MIX2</text>
<line x1="573.16" y1="262.60" x2="573.16" y2="266.70" stroke="#262626" stroke-width="1.3"/>
<text transform="translate(577.16,298.85) rotate(-90)" x="-0.93" y="0" font-size="12.3" textLength="26.70" lengthAdjust="spacingAndGlyphs">MIX3</text>
<line x1="618.16" y1="262.60" x2="618.16" y2="266.70" stroke="#262626" stroke-width="1.3"/>
<text transform="translate(622.16,300.10) rotate(-90)" x="-0.87" y="0" font-size="12.3" textLength="27.87" lengthAdjust="spacingAndGlyphs">RES1</text>
<text transform="translate(9.50,95.45) rotate(-90)" x="-1.03" y="0" font-size="12.3" textLength="63.97" lengthAdjust="spacingAndGlyphs">Deprivation</text>
<text transform="translate(9.50,225.18) rotate(-90)" x="-1.03" y="0" font-size="12.3" textLength="47.81" lengthAdjust="spacingAndGlyphs">Ethnicity</text>
<rect x="646.50" y="20.70" width="6.50" height="64.80" fill="url(#cb)"/>
<line x1="653.00" y1="26.10" x2="656.50" y2="26.10" stroke="#262626" stroke-width="1.3"/>
<text x="661.38" y="30.60" font-size="11.7" textLength="13.40" lengthAdjust="spacingAndGlyphs">25</text>
<line x1="653.00" y1="53.10" x2="656.50" y2="53.10" stroke="#262626" stroke-width="1.3"/>
<text x="661.56" y="57.60" font-size="11.7" textLength="6.39" lengthAdjust="spacingAndGlyphs">0</text>
<line x1="653.00" y1="80.10" x2="656.50" y2="80.10" stroke="#262626" stroke-width="1.3"/>
<text x="661.32" y="84.60" font-size="11.7" textLength="22.33" lengthAdjust="spacingAndGlyphs">−25</text>
<rect x="646.50" y="166.30" width="6.50" height="64.60" fill="url(#cb)"/>
<line x1="653.00" y1="171.68" x2="656.50" y2="171.68" stroke="#262626" stroke-width="1.3"/>
<text x="661.07" y="176.18" font-size="11.7" textLength="13.46" lengthAdjust="spacingAndGlyphs">10</text>
<line x1="653.00" y1="198.60" x2="656.50" y2="198.60" stroke="#262626" stroke-width="1.3"/>
<text x="661.56" y="203.10" font-size="11.7" textLength="6.39" lengthAdjust="spacingAndGlyphs">0</text>
<line x1="653.00" y1="225.52" x2="656.50" y2="225.52" stroke="#262626" stroke-width="1.3"/>
<text x="661.32" y="230.02" font-size="11.7" textLength="22.49" lengthAdjust="spacingAndGlyphs">−10</text>
</svg></body></html>
